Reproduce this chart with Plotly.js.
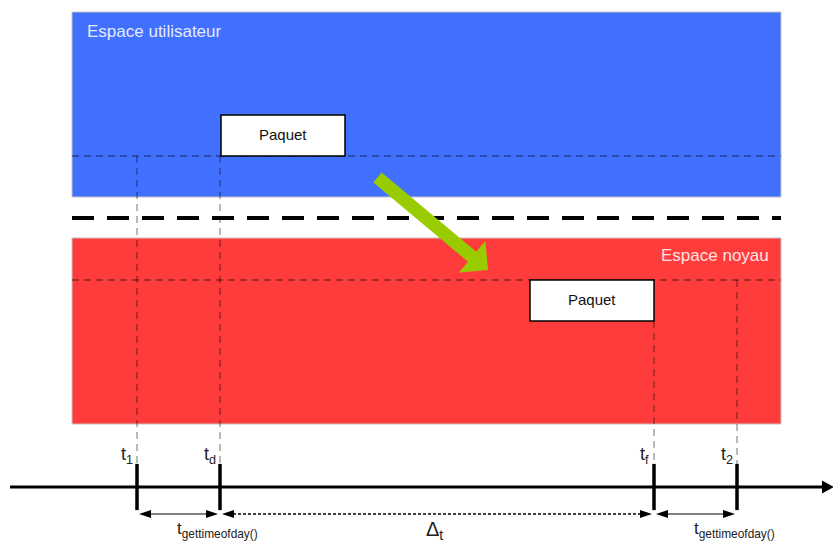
<!DOCTYPE html>
<html><head><meta charset="utf-8">
<script src="https://cdn.plot.ly/plotly-3.0.1.min.js"></script>
<style>html,body{margin:0;padding:0;background:#fff}#chart{width:833px;height:543px}</style>
</head><body><div id="chart"></div>
<script>
// ---- diagram content ----
const eventLabels = ['t<sub>1</sub>', 't<sub>d</sub>', 't<sub>f</sub>', 't<sub>2</sub>'];
const eventTimes = [137, 220, 654, 737];
const eventLineStart = [156, 156, 321, 280];

const spaceNames = ['Espace utilisateur', 'Espace noyau'];
const spaceTop = [12, 238];
const spaceBottom = [197, 424];
const spaceLevel = [156, 280];

const packetNames = ['Paquet', 'Paquet'];
const packetStart = [221, 530];
const packetEnd = [345, 654];
const packetTop = [115, 280];
const packetBottom = [156, 321];

const intervalFrom = [0, 1, 2];
const intervalTo = [1, 2, 3];
const intervalLabels = ['t<sub>gettimeofday()</sub>', 'Δ<sub>t</sub>', 't<sub>gettimeofday()</sub>'];
const intervalDotted = [false, true, false];

const transferStart = [377.5, 177.5];
const transferEnd = [488, 270];

// ---- layout constants ----
const W = 833, H = 543;
const X0 = 72, X1 = 781;
const separatorY = 218;
const timelineY = 487;
const intervalY = 514;
const FONT = 'Liberation Sans, Arial, sans-serif';

const shapes = [];
const annotations = [];

// spaces
const spaceColors = ['#4170ff', '#ff3c3c'];
const spaceTextColors = ['#e4eaff', '#ffe2e2'];
spaceNames.forEach((name, i) => {
  shapes.push({type: 'rect', xref: 'x', yref: 'y', x0: X0, x1: X1, y0: spaceTop[i], y1: spaceBottom[i],
    fillcolor: spaceColors[i], line: {color: '#c4c4c4', width: 1}, layer: 'below'});
  shapes.push({type: 'line', xref: 'x', yref: 'y', x0: X0, x1: X1, y0: spaceLevel[i], y1: spaceLevel[i],
    line: {color: 'rgba(0,0,0,0.65)', width: 1, dash: '7px,5px'}});
  annotations.push({x: i === 0 ? X0 + 13 : X1 - 10, y: i === 0 ? 31 : 255, xref: 'x', yref: 'y',
    text: name, showarrow: false, xanchor: i === 0 ? 'left' : 'right', yanchor: 'middle',
    font: {family: FONT, size: 17, color: spaceTextColors[i]}});
});

// separator
shapes.push({type: 'line', xref: 'x', yref: 'y', x0: X0, x1: X1, y0: separatorY, y1: separatorY,
  line: {color: '#000', width: 4, dash: '22px,13px'}});

// vertical event lines
eventTimes.forEach((t, i) => {
  shapes.push({type: 'line', xref: 'x', yref: 'y', x0: t, x1: t, y0: eventLineStart[i], y1: 470,
    line: {color: 'rgba(0,0,0,0.55)', width: 1, dash: '7px,5px'}});
  annotations.push({x: t - 10, y: 455, xref: 'x', yref: 'y', text: eventLabels[i], showarrow: false,
    xanchor: 'center', yanchor: 'middle', font: {family: FONT, size: 18, color: '#222'}});
});

// packets
packetNames.forEach((name, i) => {
  shapes.push({type: 'rect', xref: 'x', yref: 'y', x0: packetStart[i], x1: packetEnd[i],
    y0: packetTop[i], y1: packetBottom[i], fillcolor: '#fff', line: {color: '#000', width: 1.5}});
  annotations.push({x: (packetStart[i] + packetEnd[i]) / 2, y: (packetTop[i] + packetBottom[i]) / 2 - 1,
    xref: 'x', yref: 'y', text: name, showarrow: false, font: {family: FONT, size: 15, color: '#111'}});
});

// green transfer arrow
(function () {
  const dx = transferEnd[0] - transferStart[0], dy = transferEnd[1] - transferStart[1];
  const L = Math.hypot(dx, dy), ux = dx / L, uy = dy / L, nx = -uy, ny = ux;
  const hw = 6.5, hhw = 20.5, hl = 20.7;
  const bx = transferEnd[0] - ux * hl, by = transferEnd[1] - uy * hl;
  const p = [
    [transferStart[0] + nx * hw, transferStart[1] + ny * hw],
    [bx + nx * hw, by + ny * hw],
    [bx + nx * hhw, by + ny * hhw],
    [transferEnd[0], transferEnd[1]],
    [bx - nx * hhw, by - ny * hhw],
    [bx - nx * hw, by - ny * hw],
    [transferStart[0] - nx * hw, transferStart[1] - ny * hw]
  ];
  shapes.push({type: 'path', xref: 'x', yref: 'y', path: 'M' + p.map(q => q[0].toFixed(1) + ',' + q[1].toFixed(1)).join(' L') + ' Z',
    fillcolor: '#99cc00', line: {width: 0}});
})();

// timeline
shapes.push({type: 'line', xref: 'x', yref: 'y', x0: 10, x1: 824, y0: timelineY, y1: timelineY,
  line: {color: '#000', width: 3}});
shapes.push({type: 'path', xref: 'x', yref: 'y', path: `M822,${timelineY - 6.5} L834,${timelineY} L822,${timelineY + 6.5} Z`,
  fillcolor: '#000', line: {width: 0}});

// intervals
function head(x, dir) {
  const l = 12, h = 4;
  return {type: 'path', xref: 'x', yref: 'y',
    path: `M${x},${intervalY} L${x + dir * l},${intervalY - h} L${x + dir * l},${intervalY + h} Z`,
    fillcolor: '#000', line: {width: 0}};
}
intervalFrom.forEach((a, i) => {
  const xa = eventTimes[a] + 2, xb = eventTimes[intervalTo[i]] - 2;
  shapes.push({type: 'line', xref: 'x', yref: 'y', x0: xa + 6, x1: xb - 6, y0: intervalY, y1: intervalY,
    line: {color: '#000', width: intervalDotted[i] ? 1.5 : 1, dash: intervalDotted[i] ? '3px,2px' : 'solid'}});
  shapes.push(head(xa, 1));
  shapes.push(head(xb, -1));
  const dotted = intervalDotted[i];
  const cx = dotted ? (eventTimes[a] + eventTimes[intervalTo[i]]) / 2 - 3 : eventTimes[intervalTo[i]] - 3;
  annotations.push({x: cx, y: dotted ? 530 : 530,
    xref: 'x', yref: 'y', text: intervalLabels[i], showarrow: false, xanchor: 'center', yanchor: 'middle',
    font: {family: FONT, size: dotted ? 20 : 17, color: '#222'}});
});

// event ticks on timeline
const traces = [{
  type: 'scatter', mode: 'markers', x: eventTimes, y: eventTimes.map(() => timelineY),
  marker: {symbol: 'line-ns', size: 33, line: {color: '#000', width: 3.5}},
  hoverinfo: 'skip', showlegend: false
}];

Plotly.newPlot('chart', traces, {
  width: W, height: H, margin: {l: 0, r: 0, t: 0, b: 0},
  paper_bgcolor: '#fff', plot_bgcolor: '#fff', showlegend: false,
  xaxis: {range: [0, W], visible: false, fixedrange: true},
  yaxis: {range: [H, 0], visible: false, fixedrange: true},
  shapes: shapes, annotations: annotations
}, {staticPlot: true});
</script>
</body></html>
